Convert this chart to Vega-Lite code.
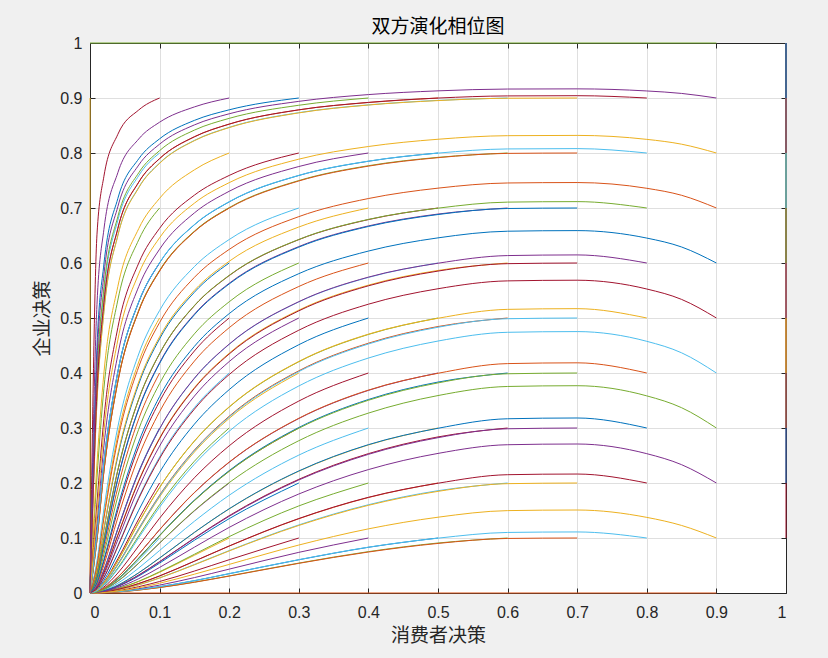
{
"$schema":"https://vega.github.io/schema/vega-lite/v6.json",
"width":696,"height":550,
"autosize":{"type":"none"},
"padding":{"left":90,"top":43,"right":42,"bottom":65},
"background":"#f0f0f0",
"config":{"view":{"stroke":null,"fill":"white"}},
"title":{"text":"双方演化相位图","font":"Noto Sans CJK SC","fontSize":19,"fontWeight":"normal","color":"#000000","offset":-2},
"layer":[
{"data":{"values":[
{"c":9,"x":0,"y":0.9},{"c":9,"x":0,"y":0},
{"c":12,"x":0.1,"y":0.1},{"c":12,"x":0.07,"y":0.0602},{"c":12,"x":0.04,"y":0.0243},{"c":12,"x":0.02,"y":0.007},{"c":12,"x":0.01,"y":0.0019},{"c":12,"x":0,"y":0},
{"c":13,"x":0.1,"y":0.2},{"c":13,"x":0.07,"y":0.1347},{"c":13,"x":0.04,"y":0.0621},{"c":13,"x":0.02,"y":0.0195},{"c":13,"x":0.01,"y":0.0056},{"c":13,"x":0,"y":0},
{"c":14,"x":0.1,"y":0.3},{"c":14,"x":0.07,"y":0.2209},{"c":14,"x":0.04,"y":0.1172},{"c":14,"x":0.02,"y":0.0418},{"c":14,"x":0.01,"y":0.0127},{"c":14,"x":0,"y":0},
{"c":15,"x":0.1,"y":0.4},{"c":15,"x":0.07,"y":0.3167},{"c":15,"x":0.04,"y":0.192},{"c":15,"x":0.02,"y":0.0796},{"c":15,"x":0.01,"y":0.0259},{"c":15,"x":0,"y":0},
{"c":16,"x":0.1,"y":0.5},{"c":16,"x":0.07,"y":0.42},{"c":16,"x":0.04,"y":0.2873},{"c":16,"x":0.02,"y":0.1418},{"c":16,"x":0.01,"y":0.0528},{"c":16,"x":0,"y":0},
{"c":17,"x":0.1,"y":0.6},{"c":17,"x":0.07,"y":0.5288},{"c":17,"x":0.04,"y":0.4017},{"c":17,"x":0.02,"y":0.2374},{"c":17,"x":0.01,"y":0.1064},{"c":17,"x":0,"y":0},
{"c":18,"x":0.1,"y":0.7},{"c":18,"x":0.07,"y":0.6421},{"c":18,"x":0.04,"y":0.5326},{"c":18,"x":0.02,"y":0.372},{"c":18,"x":0.01,"y":0.2093},{"c":18,"x":0,"y":0},
{"c":19,"x":0.1,"y":0.8},{"c":19,"x":0.07,"y":0.7588},{"c":19,"x":0.04,"y":0.6777},{"c":19,"x":0.02,"y":0.5466},{"c":19,"x":0.01,"y":0.3863},{"c":19,"x":0,"y":0},
{"c":20,"x":0.1,"y":0.9},{"c":20,"x":0.07,"y":0.8782},{"c":20,"x":0.04,"y":0.834},{"c":20,"x":0.02,"y":0.7577},{"c":20,"x":0.01,"y":0.6512},{"c":20,"x":0,"y":0},
{"c":23,"x":0.2,"y":0.1},{"c":23,"x":0.15,"y":0.0686},{"c":23,"x":0.1,"y":0.0376},{"c":23,"x":0.07,"y":0.0208},{"c":23,"x":0.04,"y":0.0078},{"c":23,"x":0.02,"y":0.0022},{"c":23,"x":0.01,"y":0.0006},{"c":23,"x":0,"y":0},
{"c":24,"x":0.2,"y":0.2},{"c":24,"x":0.15,"y":0.1493},{"c":24,"x":0.1,"y":0.0906},{"c":24,"x":0.07,"y":0.0541},{"c":24,"x":0.04,"y":0.0215},{"c":24,"x":0.02,"y":0.0063},{"c":24,"x":0.01,"y":0.0017},{"c":24,"x":0,"y":0},
{"c":25,"x":0.2,"y":0.3},{"c":25,"x":0.15,"y":0.2396},{"c":25,"x":0.1,"y":0.1607},{"c":25,"x":0.07,"y":0.1039},{"c":25,"x":0.04,"y":0.0455},{"c":25,"x":0.02,"y":0.0139},{"c":25,"x":0.01,"y":0.0039},{"c":25,"x":0,"y":0},
{"c":26,"x":0.2,"y":0.4},{"c":26,"x":0.15,"y":0.3371},{"c":26,"x":0.1,"y":0.2473},{"c":26,"x":0.07,"y":0.1741},{"c":26,"x":0.04,"y":0.0858},{"c":26,"x":0.02,"y":0.0286},{"c":26,"x":0.01,"y":0.0084},{"c":26,"x":0,"y":0},
{"c":27,"x":0.2,"y":0.5},{"c":27,"x":0.15,"y":0.44},{"c":27,"x":0.1,"y":0.3484},{"c":27,"x":0.07,"y":0.2663},{"c":27,"x":0.04,"y":0.1508},{"c":27,"x":0.02,"y":0.0577},{"c":27,"x":0.01,"y":0.018},{"c":27,"x":0,"y":0},
{"c":28,"x":0.2,"y":0.6},{"c":28,"x":0.15,"y":0.5469},{"c":28,"x":0.1,"y":0.4621},{"c":28,"x":0.07,"y":0.38},{"c":28,"x":0.04,"y":0.2489},{"c":28,"x":0.02,"y":0.1148},{"c":28,"x":0.01,"y":0.0402},{"c":28,"x":0,"y":0},
{"c":29,"x":0.2,"y":0.7},{"c":29,"x":0.15,"y":0.6571},{"c":29,"x":0.1,"y":0.5857},{"c":29,"x":0.07,"y":0.513},{"c":29,"x":0.04,"y":0.3843},{"c":29,"x":0.02,"y":0.2214},{"c":29,"x":0.01,"y":0.0964},{"c":29,"x":0,"y":0},
{"c":30,"x":0.2,"y":0.8},{"c":30,"x":0.15,"y":0.7694},{"c":30,"x":0.1,"y":0.7176},{"c":30,"x":0.07,"y":0.6625},{"c":30,"x":0.04,"y":0.5574},{"c":30,"x":0.02,"y":0.4},{"c":30,"x":0.01,"y":0.2346},{"c":30,"x":0,"y":0},
{"c":31,"x":0.2,"y":0.9},{"c":31,"x":0.15,"y":0.8838},{"c":31,"x":0.1,"y":0.856},{"c":31,"x":0.07,"y":0.8255},{"c":31,"x":0.04,"y":0.7642},{"c":31,"x":0.02,"y":0.6612},{"c":31,"x":0.01,"y":0.5243},{"c":31,"x":0,"y":0},
{"c":34,"x":0.3,"y":0.1},{"c":34,"x":0.2,"y":0.0605},{"c":34,"x":0.15,"y":0.0399},{"c":34,"x":0.1,"y":0.0209},{"c":34,"x":0.07,"y":0.0115},{"c":34,"x":0.04,"y":0.0042},{"c":34,"x":0.02,"y":0.0011},{"c":34,"x":0.01,"y":0.0003},{"c":34,"x":0,"y":0},
{"c":35,"x":0.3,"y":0.2},{"c":35,"x":0.2,"y":0.1352},{"c":35,"x":0.15,"y":0.0959},{"c":35,"x":0.1,"y":0.0544},{"c":35,"x":0.07,"y":0.0308},{"c":35,"x":0.04,"y":0.0119},{"c":35,"x":0.02,"y":0.0033},{"c":35,"x":0.01,"y":0.0009},{"c":35,"x":0,"y":0},
{"c":36,"x":0.3,"y":0.3},{"c":36,"x":0.2,"y":0.2217},{"c":36,"x":0.15,"y":0.1682},{"c":36,"x":0.1,"y":0.1044},{"c":36,"x":0.07,"y":0.0632},{"c":36,"x":0.04,"y":0.0256},{"c":36,"x":0.02,"y":0.0075},{"c":36,"x":0.01,"y":0.0021},{"c":36,"x":0,"y":0},
{"c":37,"x":0.3,"y":0.4},{"c":37,"x":0.2,"y":0.3175},{"c":37,"x":0.15,"y":0.2563},{"c":37,"x":0.1,"y":0.1747},{"c":37,"x":0.07,"y":0.1146},{"c":37,"x":0.04,"y":0.051},{"c":37,"x":0.02,"y":0.0158},{"c":37,"x":0.01,"y":0.0045},{"c":37,"x":0,"y":0},
{"c":38,"x":0.3,"y":0.5},{"c":38,"x":0.2,"y":0.4208},{"c":38,"x":0.15,"y":0.358},{"c":38,"x":0.1,"y":0.2671},{"c":38,"x":0.07,"y":0.1913},{"c":38,"x":0.04,"y":0.0969},{"c":38,"x":0.02,"y":0.0333},{"c":38,"x":0.01,"y":0.0097},{"c":38,"x":0,"y":0},
{"c":39,"x":0.3,"y":0.6},{"c":39,"x":0.2,"y":0.5295},{"c":39,"x":0.15,"y":0.4712},{"c":39,"x":0.1,"y":0.3808},{"c":39,"x":0.07,"y":0.2977},{"c":39,"x":0.04,"y":0.1761},{"c":39,"x":0.02,"y":0.0707},{"c":39,"x":0.01,"y":0.0226},{"c":39,"x":0,"y":0},
{"c":40,"x":0.3,"y":0.7},{"c":40,"x":0.2,"y":0.6427},{"c":40,"x":0.15,"y":0.5935},{"c":40,"x":0.1,"y":0.5137},{"c":40,"x":0.07,"y":0.4346},{"c":40,"x":0.04,"y":0.3019},{"c":40,"x":0.02,"y":0.1528},{"c":40,"x":0.01,"y":0.0581},{"c":40,"x":0,"y":0},
{"c":41,"x":0.3,"y":0.8},{"c":41,"x":0.2,"y":0.7592},{"c":41,"x":0.15,"y":0.7234},{"c":41,"x":0.1,"y":0.6631},{"c":41,"x":0.07,"y":0.5998},{"c":41,"x":0.04,"y":0.4825},{"c":41,"x":0.02,"y":0.3175},{"c":41,"x":0.01,"y":0.1638},{"c":41,"x":0,"y":0},
{"c":42,"x":0.3,"y":0.9},{"c":42,"x":0.2,"y":0.8785},{"c":42,"x":0.15,"y":0.8593},{"c":42,"x":0.1,"y":0.8258},{"c":42,"x":0.07,"y":0.7894},{"c":42,"x":0.04,"y":0.7173},{"c":42,"x":0.02,"y":0.5982},{"c":42,"x":0.01,"y":0.4467},{"c":42,"x":0,"y":0},
{"c":45,"x":0.4,"y":0.1},{"c":45,"x":0.3,"y":0.0739},{"c":45,"x":0.2,"y":0.0434},{"c":45,"x":0.15,"y":0.028},{"c":45,"x":0.1,"y":0.0144},{"c":45,"x":0.07,"y":0.0078},{"c":45,"x":0.04,"y":0.0028},{"c":45,"x":0.02,"y":0.0008},{"c":45,"x":0.01,"y":0.0002},{"c":45,"x":0,"y":0},
{"c":46,"x":0.4,"y":0.2},{"c":46,"x":0.3,"y":0.1583},{"c":46,"x":0.2,"y":0.1025},{"c":46,"x":0.15,"y":0.0704},{"c":46,"x":0.1,"y":0.0386},{"c":46,"x":0.07,"y":0.0214},{"c":46,"x":0.04,"y":0.0081},{"c":46,"x":0.02,"y":0.0022},{"c":46,"x":0.01,"y":0.0006},{"c":46,"x":0,"y":0},
{"c":47,"x":0.4,"y":0.3},{"c":47,"x":0.3,"y":0.2507},{"c":47,"x":0.2,"y":0.1777},{"c":47,"x":0.15,"y":0.1304},{"c":47,"x":0.1,"y":0.0773},{"c":47,"x":0.07,"y":0.0454},{"c":47,"x":0.04,"y":0.0178},{"c":47,"x":0.02,"y":0.0051},{"c":47,"x":0.01,"y":0.0014},{"c":47,"x":0,"y":0},
{"c":48,"x":0.4,"y":0.4},{"c":48,"x":0.3,"y":0.349},{"c":48,"x":0.2,"y":0.2676},{"c":48,"x":0.15,"y":0.2095},{"c":48,"x":0.1,"y":0.136},{"c":48,"x":0.07,"y":0.0856},{"c":48,"x":0.04,"y":0.0363},{"c":48,"x":0.02,"y":0.0109},{"c":48,"x":0.01,"y":0.003},{"c":48,"x":0,"y":0},
{"c":49,"x":0.4,"y":0.5},{"c":49,"x":0.3,"y":0.4514},{"c":49,"x":0.2,"y":0.3698},{"c":49,"x":0.15,"y":0.307},{"c":49,"x":0.1,"y":0.2194},{"c":49,"x":0.07,"y":0.1505},{"c":49,"x":0.04,"y":0.0713},{"c":49,"x":0.02,"y":0.0231},{"c":49,"x":0.01,"y":0.0067},{"c":49,"x":0,"y":0},
{"c":50,"x":0.4,"y":0.6},{"c":50,"x":0.3,"y":0.5573},{"c":50,"x":0.2,"y":0.4824},{"c":50,"x":0.15,"y":0.4216},{"c":50,"x":0.1,"y":0.3296},{"c":50,"x":0.07,"y":0.2485},{"c":50,"x":0.04,"y":0.1372},{"c":50,"x":0.02,"y":0.051},{"c":50,"x":0.01,"y":0.0156},{"c":50,"x":0,"y":0},
{"c":51,"x":0.4,"y":0.7},{"c":51,"x":0.3,"y":0.6654},{"c":51,"x":0.2,"y":0.6031},{"c":51,"x":0.15,"y":0.5503},{"c":51,"x":0.1,"y":0.4658},{"c":51,"x":0.07,"y":0.3839},{"c":51,"x":0.04,"y":0.2526},{"c":51,"x":0.02,"y":0.1172},{"c":51,"x":0.01,"y":0.0414},{"c":51,"x":0,"y":0},
{"c":52,"x":0.4,"y":0.8},{"c":52,"x":0.3,"y":0.7754},{"c":52,"x":0.2,"y":0.7304},{"c":52,"x":0.15,"y":0.6911},{"c":52,"x":0.1,"y":0.6251},{"c":52,"x":0.07,"y":0.5571},{"c":52,"x":0.04,"y":0.4333},{"c":52,"x":0.02,"y":0.2676},{"c":52,"x":0.01,"y":0.1266},{"c":52,"x":0,"y":0},
{"c":53,"x":0.4,"y":0.9},{"c":53,"x":0.3,"y":0.8868},{"c":53,"x":0.2,"y":0.863},{"c":53,"x":0.15,"y":0.8416},{"c":53,"x":0.1,"y":0.8043},{"c":53,"x":0.07,"y":0.764},{"c":53,"x":0.04,"y":0.6844},{"c":53,"x":0.02,"y":0.5553},{"c":53,"x":0.01,"y":0.3963},{"c":53,"x":0,"y":0},
{"c":56,"x":0.5,"y":0.1},{"c":56,"x":0.4,"y":0.0831},{"c":56,"x":0.3,"y":0.0604},{"c":56,"x":0.2,"y":0.0351},{"c":56,"x":0.15,"y":0.0224},{"c":56,"x":0.1,"y":0.0115},{"c":56,"x":0.07,"y":0.0062},{"c":56,"x":0.04,"y":0.0022},{"c":56,"x":0.02,"y":0.0006},{"c":56,"x":0.01,"y":0.0002},{"c":56,"x":0,"y":0},
{"c":57,"x":0.5,"y":0.2},{"c":57,"x":0.4,"y":0.1736},{"c":57,"x":0.3,"y":0.135},{"c":57,"x":0.2,"y":0.0853},{"c":57,"x":0.15,"y":0.0577},{"c":57,"x":0.1,"y":0.0309},{"c":57,"x":0.07,"y":0.0171},{"c":57,"x":0.04,"y":0.0064},{"c":57,"x":0.02,"y":0.0018},{"c":57,"x":0.01,"y":0.0005},{"c":57,"x":0,"y":0},
{"c":58,"x":0.5,"y":0.3},{"c":58,"x":0.4,"y":0.2692},{"c":58,"x":0.3,"y":0.2214},{"c":58,"x":0.2,"y":0.1528},{"c":58,"x":0.15,"y":0.11},{"c":58,"x":0.1,"y":0.0634},{"c":58,"x":0.07,"y":0.0367},{"c":58,"x":0.04,"y":0.0141},{"c":58,"x":0.02,"y":0.004},{"c":58,"x":0.01,"y":0.0011},{"c":58,"x":0,"y":0},
{"c":59,"x":0.5,"y":0.4},{"c":59,"x":0.4,"y":0.3684},{"c":59,"x":0.3,"y":0.3172},{"c":59,"x":0.2,"y":0.2376},{"c":59,"x":0.15,"y":0.1824},{"c":59,"x":0.1,"y":0.115},{"c":59,"x":0.07,"y":0.0705},{"c":59,"x":0.04,"y":0.0289},{"c":59,"x":0.02,"y":0.0085},{"c":59,"x":0.01,"y":0.0024},{"c":59,"x":0,"y":0},
{"c":60,"x":0.5,"y":0.5},{"c":60,"x":0.4,"y":0.4701},{"c":60,"x":0.3,"y":0.4205},{"c":60,"x":0.2,"y":0.338},{"c":60,"x":0.15,"y":0.276},{"c":60,"x":0.1,"y":0.1918},{"c":60,"x":0.07,"y":0.128},{"c":60,"x":0.04,"y":0.0584},{"c":60,"x":0.02,"y":0.0184},{"c":60,"x":0.01,"y":0.0052},{"c":60,"x":0,"y":0},
{"c":61,"x":0.5,"y":0.6},{"c":61,"x":0.4,"y":0.5738},{"c":61,"x":0.3,"y":0.5293},{"c":61,"x":0.2,"y":0.4521},{"c":61,"x":0.15,"y":0.39},{"c":61,"x":0.1,"y":0.2982},{"c":61,"x":0.07,"y":0.2193},{"c":61,"x":0.04,"y":0.116},{"c":61,"x":0.02,"y":0.0413},{"c":61,"x":0.01,"y":0.0125},{"c":61,"x":0,"y":0},
{"c":62,"x":0.5,"y":0.7},{"c":62,"x":0.4,"y":0.6789},{"c":62,"x":0.3,"y":0.6425},{"c":62,"x":0.2,"y":0.5771},{"c":62,"x":0.15,"y":0.5222},{"c":62,"x":0.1,"y":0.4351},{"c":62,"x":0.07,"y":0.3522},{"c":62,"x":0.04,"y":0.2232},{"c":62,"x":0.02,"y":0.0982},{"c":62,"x":0.01,"y":0.0335},{"c":62,"x":0,"y":0},
{"c":63,"x":0.5,"y":0.8},{"c":63,"x":0.4,"y":0.785},{"c":63,"x":0.3,"y":0.7591},{"c":63,"x":0.2,"y":0.7111},{"c":63,"x":0.15,"y":0.6695},{"c":63,"x":0.1,"y":0.6002},{"c":63,"x":0.07,"y":0.529},{"c":63,"x":0.04,"y":0.4019},{"c":63,"x":0.02,"y":0.2376},{"c":63,"x":0.01,"y":0.1066},{"c":63,"x":0,"y":0},
{"c":64,"x":0.5,"y":0.9},{"c":64,"x":0.4,"y":0.8918},{"c":64,"x":0.3,"y":0.8784},{"c":64,"x":0.2,"y":0.8524},{"c":64,"x":0.15,"y":0.8294},{"c":64,"x":0.1,"y":0.7897},{"c":64,"x":0.07,"y":0.7468},{"c":64,"x":0.04,"y":0.6625},{"c":64,"x":0.02,"y":0.5273},{"c":64,"x":0.01,"y":0.3646},{"c":64,"x":0,"y":0},
{"c":67,"x":0.6,"y":0.1},{"c":67,"x":0.5,"y":0.0909},{"c":67,"x":0.4,"y":0.0752},{"c":67,"x":0.3,"y":0.0544},{"c":67,"x":0.2,"y":0.0311},{"c":67,"x":0.15,"y":0.0198},{"c":67,"x":0.1,"y":0.01},{"c":67,"x":0.07,"y":0.0054},{"c":67,"x":0.04,"y":0.0019},{"c":67,"x":0.02,"y":0.0005},{"c":67,"x":0.01,"y":0.0001},{"c":67,"x":0,"y":0},
{"c":68,"x":0.6,"y":0.2},{"c":68,"x":0.5,"y":0.186},{"c":68,"x":0.4,"y":0.1605},{"c":68,"x":0.3,"y":0.1238},{"c":68,"x":0.2,"y":0.0771},{"c":68,"x":0.15,"y":0.0518},{"c":68,"x":0.1,"y":0.0275},{"c":68,"x":0.07,"y":0.015},{"c":68,"x":0.04,"y":0.0056},{"c":68,"x":0.02,"y":0.0015},{"c":68,"x":0.01,"y":0.0004},{"c":68,"x":0,"y":0},
{"c":69,"x":0.6,"y":0.3},{"c":69,"x":0.5,"y":0.2838},{"c":69,"x":0.4,"y":0.2534},{"c":69,"x":0.3,"y":0.2067},{"c":69,"x":0.2,"y":0.1406},{"c":69,"x":0.15,"y":0.1},{"c":69,"x":0.1,"y":0.0571},{"c":69,"x":0.07,"y":0.0327},{"c":69,"x":0.04,"y":0.0126},{"c":69,"x":0.02,"y":0.0035},{"c":69,"x":0.01,"y":0.001},{"c":69,"x":0,"y":0},
{"c":70,"x":0.6,"y":0.4},{"c":70,"x":0.5,"y":0.3835},{"c":70,"x":0.4,"y":0.3518},{"c":70,"x":0.3,"y":0.3009},{"c":70,"x":0.2,"y":0.2225},{"c":70,"x":0.15,"y":0.1689},{"c":70,"x":0.1,"y":0.1049},{"c":70,"x":0.07,"y":0.0636},{"c":70,"x":0.04,"y":0.0257},{"c":70,"x":0.02,"y":0.0076},{"c":70,"x":0.01,"y":0.0021},{"c":70,"x":0,"y":0},
{"c":71,"x":0.6,"y":0.5},{"c":71,"x":0.5,"y":0.4845},{"c":71,"x":0.4,"y":0.4542},{"c":71,"x":0.3,"y":0.404},{"c":71,"x":0.2,"y":0.3214},{"c":71,"x":0.15,"y":0.26},{"c":71,"x":0.1,"y":0.178},{"c":71,"x":0.07,"y":0.1172},{"c":71,"x":0.04,"y":0.0525},{"c":71,"x":0.02,"y":0.0163},{"c":71,"x":0.01,"y":0.0046},{"c":71,"x":0,"y":0},
{"c":72,"x":0.6,"y":0.6},{"c":72,"x":0.5,"y":0.5865},{"c":72,"x":0.4,"y":0.5598},{"c":72,"x":0.3,"y":0.5143},{"c":72,"x":0.2,"y":0.436},{"c":72,"x":0.15,"y":0.3735},{"c":72,"x":0.1,"y":0.282},{"c":72,"x":0.07,"y":0.2047},{"c":72,"x":0.04,"y":0.1059},{"c":72,"x":0.02,"y":0.037},{"c":72,"x":0.01,"y":0.011},{"c":72,"x":0,"y":0},
{"c":73,"x":0.6,"y":0.7},{"c":73,"x":0.5,"y":0.689},{"c":73,"x":0.4,"y":0.6674},{"c":73,"x":0.3,"y":0.6299},{"c":73,"x":0.2,"y":0.5631},{"c":73,"x":0.15,"y":0.507},{"c":73,"x":0.1,"y":0.4188},{"c":73,"x":0.07,"y":0.3356},{"c":73,"x":0.04,"y":0.2085},{"c":73,"x":0.02,"y":0.0891},{"c":73,"x":0.01,"y":0.0296},{"c":73,"x":0,"y":0},
{"c":74,"x":0.6,"y":0.8},{"c":74,"x":0.5,"y":0.7921},{"c":74,"x":0.4,"y":0.7769},{"c":74,"x":0.3,"y":0.7499},{"c":74,"x":0.2,"y":0.7007},{"c":74,"x":0.15,"y":0.6579},{"c":74,"x":0.1,"y":0.5867},{"c":74,"x":0.07,"y":0.514},{"c":74,"x":0.04,"y":0.3854},{"c":74,"x":0.02,"y":0.2225},{"c":74,"x":0.01,"y":0.097},{"c":74,"x":0,"y":0},
{"c":75,"x":0.6,"y":0.9},{"c":75,"x":0.5,"y":0.8957},{"c":75,"x":0.4,"y":0.8875},{"c":75,"x":0.3,"y":0.8734},{"c":75,"x":0.2,"y":0.8467},{"c":75,"x":0.15,"y":0.8229},{"c":75,"x":0.1,"y":0.7818},{"c":75,"x":0.07,"y":0.7375},{"c":75,"x":0.04,"y":0.6505},{"c":75,"x":0.02,"y":0.5123},{"c":75,"x":0.01,"y":0.3481},{"c":75,"x":0,"y":0},
{"c":78,"x":0.7,"y":0.1},{"c":78,"x":0.6,"y":0.0992},{"c":78,"x":0.5,"y":0.0901},{"c":78,"x":0.4,"y":0.0745},{"c":78,"x":0.3,"y":0.0539},{"c":78,"x":0.2,"y":0.0307},{"c":78,"x":0.15,"y":0.0195},{"c":78,"x":0.1,"y":0.0099},{"c":78,"x":0.07,"y":0.0053},{"c":78,"x":0.04,"y":0.0019},{"c":78,"x":0.02,"y":0.0005},{"c":78,"x":0.01,"y":0.0001},{"c":78,"x":0,"y":0},
{"c":79,"x":0.7,"y":0.2},{"c":79,"x":0.6,"y":0.1988},{"c":79,"x":0.5,"y":0.1848},{"c":79,"x":0.4,"y":0.1594},{"c":79,"x":0.3,"y":0.1228},{"c":79,"x":0.2,"y":0.0765},{"c":79,"x":0.15,"y":0.0512},{"c":79,"x":0.1,"y":0.0273},{"c":79,"x":0.07,"y":0.0149},{"c":79,"x":0.04,"y":0.0055},{"c":79,"x":0.02,"y":0.0015},{"c":79,"x":0.01,"y":0.0004},{"c":79,"x":0,"y":0},
{"c":80,"x":0.7,"y":0.3},{"c":80,"x":0.6,"y":0.2986},{"c":80,"x":0.5,"y":0.2824},{"c":80,"x":0.4,"y":0.2521},{"c":80,"x":0.3,"y":0.2055},{"c":80,"x":0.2,"y":0.1395},{"c":80,"x":0.15,"y":0.0993},{"c":80,"x":0.1,"y":0.0566},{"c":80,"x":0.07,"y":0.0323},{"c":80,"x":0.04,"y":0.0125},{"c":80,"x":0.02,"y":0.0035},{"c":80,"x":0.01,"y":0.0009},{"c":80,"x":0,"y":0},
{"c":81,"x":0.7,"y":0.4},{"c":81,"x":0.6,"y":0.3986},{"c":81,"x":0.5,"y":0.382},{"c":81,"x":0.4,"y":0.3504},{"c":81,"x":0.3,"y":0.2995},{"c":81,"x":0.2,"y":0.2211},{"c":81,"x":0.15,"y":0.1678},{"c":81,"x":0.1,"y":0.1041},{"c":81,"x":0.07,"y":0.063},{"c":81,"x":0.04,"y":0.0254},{"c":81,"x":0.02,"y":0.0075},{"c":81,"x":0.01,"y":0.0021},{"c":81,"x":0,"y":0},
{"c":82,"x":0.7,"y":0.5},{"c":82,"x":0.6,"y":0.4987},{"c":82,"x":0.5,"y":0.4832},{"c":82,"x":0.4,"y":0.4528},{"c":82,"x":0.3,"y":0.4026},{"c":82,"x":0.2,"y":0.32},{"c":82,"x":0.15,"y":0.2588},{"c":82,"x":0.1,"y":0.1769},{"c":82,"x":0.07,"y":0.1163},{"c":82,"x":0.04,"y":0.0519},{"c":82,"x":0.02,"y":0.0161},{"c":82,"x":0.01,"y":0.0046},{"c":82,"x":0,"y":0},
{"c":83,"x":0.7,"y":0.6},{"c":83,"x":0.6,"y":0.5988},{"c":83,"x":0.5,"y":0.5853},{"c":83,"x":0.4,"y":0.5585},{"c":83,"x":0.3,"y":0.513},{"c":83,"x":0.2,"y":0.4346},{"c":83,"x":0.15,"y":0.3721},{"c":83,"x":0.1,"y":0.2806},{"c":83,"x":0.07,"y":0.2034},{"c":83,"x":0.04,"y":0.105},{"c":83,"x":0.02,"y":0.0367},{"c":83,"x":0.01,"y":0.0109},{"c":83,"x":0,"y":0},
{"c":84,"x":0.7,"y":0.7},{"c":84,"x":0.6,"y":0.6991},{"c":84,"x":0.5,"y":0.6881},{"c":84,"x":0.4,"y":0.6664},{"c":84,"x":0.3,"y":0.6288},{"c":84,"x":0.2,"y":0.5619},{"c":84,"x":0.15,"y":0.5057},{"c":84,"x":0.1,"y":0.4174},{"c":84,"x":0.07,"y":0.3341},{"c":84,"x":0.04,"y":0.2072},{"c":84,"x":0.02,"y":0.0884},{"c":84,"x":0.01,"y":0.0293},{"c":84,"x":0,"y":0},
{"c":85,"x":0.7,"y":0.8},{"c":85,"x":0.6,"y":0.7993},{"c":85,"x":0.5,"y":0.7915},{"c":85,"x":0.4,"y":0.7761},{"c":85,"x":0.3,"y":0.7491},{"c":85,"x":0.2,"y":0.6998},{"c":85,"x":0.15,"y":0.6569},{"c":85,"x":0.1,"y":0.5855},{"c":85,"x":0.07,"y":0.5127},{"c":85,"x":0.04,"y":0.384},{"c":85,"x":0.02,"y":0.2211},{"c":85,"x":0.01,"y":0.0962},{"c":85,"x":0,"y":0},
{"c":86,"x":0.7,"y":0.9},{"c":86,"x":0.6,"y":0.8996},{"c":86,"x":0.5,"y":0.8953},{"c":86,"x":0.4,"y":0.8872},{"c":86,"x":0.3,"y":0.8729},{"c":86,"x":0.2,"y":0.8462},{"c":86,"x":0.15,"y":0.8224},{"c":86,"x":0.1,"y":0.7812},{"c":86,"x":0.07,"y":0.7367},{"c":86,"x":0.04,"y":0.6495},{"c":86,"x":0.02,"y":0.511},{"c":86,"x":0.01,"y":0.3466},{"c":86,"x":0,"y":0},
{"c":89,"x":0.8,"y":0.1},{"c":89,"x":0.7,"y":0.111},{"c":89,"x":0.6,"y":0.1101},{"c":89,"x":0.5,"y":0.0997},{"c":89,"x":0.4,"y":0.0833},{"c":89,"x":0.3,"y":0.0606},{"c":89,"x":0.2,"y":0.0352},{"c":89,"x":0.15,"y":0.0225},{"c":89,"x":0.1,"y":0.0116},{"c":89,"x":0.07,"y":0.0062},{"c":89,"x":0.04,"y":0.0022},{"c":89,"x":0.02,"y":0.0006},{"c":89,"x":0.01,"y":0.0002},{"c":89,"x":0,"y":0},
{"c":90,"x":0.8,"y":0.2},{"c":90,"x":0.7,"y":0.2163},{"c":90,"x":0.6,"y":0.2151},{"c":90,"x":0.5,"y":0.1996},{"c":90,"x":0.4,"y":0.174},{"c":90,"x":0.3,"y":0.1354},{"c":90,"x":0.2,"y":0.0855},{"c":90,"x":0.15,"y":0.0579},{"c":90,"x":0.1,"y":0.0311},{"c":90,"x":0.07,"y":0.0172},{"c":90,"x":0.04,"y":0.0064},{"c":90,"x":0.02,"y":0.0018},{"c":90,"x":0.01,"y":0.0005},{"c":90,"x":0,"y":0},
{"c":91,"x":0.8,"y":0.3},{"c":91,"x":0.7,"y":0.3182},{"c":91,"x":0.6,"y":0.3168},{"c":91,"x":0.5,"y":0.2995},{"c":91,"x":0.4,"y":0.2697},{"c":91,"x":0.3,"y":0.2219},{"c":91,"x":0.2,"y":0.1532},{"c":91,"x":0.15,"y":0.1102},{"c":91,"x":0.1,"y":0.0637},{"c":91,"x":0.07,"y":0.0368},{"c":91,"x":0.04,"y":0.0142},{"c":91,"x":0.02,"y":0.004},{"c":91,"x":0.01,"y":0.0011},{"c":91,"x":0,"y":0},
{"c":92,"x":0.8,"y":0.4},{"c":92,"x":0.7,"y":0.4185},{"c":92,"x":0.6,"y":0.4171},{"c":92,"x":0.5,"y":0.3995},{"c":92,"x":0.4,"y":0.3689},{"c":92,"x":0.3,"y":0.3177},{"c":92,"x":0.2,"y":0.2381},{"c":92,"x":0.15,"y":0.1828},{"c":92,"x":0.1,"y":0.1153},{"c":92,"x":0.07,"y":0.0707},{"c":92,"x":0.04,"y":0.029},{"c":92,"x":0.02,"y":0.0085},{"c":92,"x":0.01,"y":0.0024},{"c":92,"x":0,"y":0},
{"c":93,"x":0.8,"y":0.5},{"c":93,"x":0.7,"y":0.517},{"c":93,"x":0.6,"y":0.5157},{"c":93,"x":0.5,"y":0.4995},{"c":93,"x":0.4,"y":0.4706},{"c":93,"x":0.3,"y":0.421},{"c":93,"x":0.2,"y":0.3386},{"c":93,"x":0.15,"y":0.2765},{"c":93,"x":0.1,"y":0.1919},{"c":93,"x":0.07,"y":0.1284},{"c":93,"x":0.04,"y":0.0586},{"c":93,"x":0.02,"y":0.0185},{"c":93,"x":0.01,"y":0.0052},{"c":93,"x":0,"y":0},
{"c":94,"x":0.8,"y":0.6},{"c":94,"x":0.7,"y":0.6147},{"c":94,"x":0.6,"y":0.6135},{"c":94,"x":0.5,"y":0.5996},{"c":94,"x":0.4,"y":0.5743},{"c":94,"x":0.3,"y":0.5297},{"c":94,"x":0.2,"y":0.4526},{"c":94,"x":0.15,"y":0.3906},{"c":94,"x":0.1,"y":0.2987},{"c":94,"x":0.07,"y":0.2198},{"c":94,"x":0.04,"y":0.1163},{"c":94,"x":0.02,"y":0.0414},{"c":94,"x":0.01,"y":0.0126},{"c":94,"x":0,"y":0},
{"c":95,"x":0.8,"y":0.7},{"c":95,"x":0.7,"y":0.7116},{"c":95,"x":0.6,"y":0.7107},{"c":95,"x":0.5,"y":0.6997},{"c":95,"x":0.4,"y":0.6793},{"c":95,"x":0.3,"y":0.6428},{"c":95,"x":0.2,"y":0.5776},{"c":95,"x":0.15,"y":0.5227},{"c":95,"x":0.1,"y":0.4356},{"c":95,"x":0.07,"y":0.3527},{"c":95,"x":0.04,"y":0.2236},{"c":95,"x":0.02,"y":0.0985},{"c":95,"x":0.01,"y":0.0336},{"c":95,"x":0,"y":0},
{"c":96,"x":0.8,"y":0.8},{"c":96,"x":0.7,"y":0.808},{"c":96,"x":0.6,"y":0.8074},{"c":96,"x":0.5,"y":0.7998},{"c":96,"x":0.4,"y":0.7852},{"c":96,"x":0.3,"y":0.7593},{"c":96,"x":0.2,"y":0.7115},{"c":96,"x":0.15,"y":0.6699},{"c":96,"x":0.1,"y":0.6006},{"c":96,"x":0.07,"y":0.5295},{"c":96,"x":0.04,"y":0.4025},{"c":96,"x":0.02,"y":0.2381},{"c":96,"x":0.01,"y":0.1069},{"c":96,"x":0,"y":0},
{"c":97,"x":0.8,"y":0.9},{"c":97,"x":0.7,"y":0.9042},{"c":97,"x":0.6,"y":0.9038},{"c":97,"x":0.5,"y":0.8999},{"c":97,"x":0.4,"y":0.892},{"c":97,"x":0.3,"y":0.8785},{"c":97,"x":0.2,"y":0.8526},{"c":97,"x":0.15,"y":0.8296},{"c":97,"x":0.1,"y":0.7899},{"c":97,"x":0.07,"y":0.7471},{"c":97,"x":0.04,"y":0.6629},{"c":97,"x":0.02,"y":0.5277},{"c":97,"x":0.01,"y":0.3652},{"c":97,"x":0,"y":0},
{"c":99,"x":0.9,"y":0},{"c":99,"x":0,"y":0},
{"c":100,"x":0.9,"y":0.1},{"c":100,"x":0.85,"y":0.1228},{"c":100,"x":0.8,"y":0.1375},{"c":100,"x":0.7,"y":0.1509},{"c":100,"x":0.6,"y":0.1498},{"c":100,"x":0.5,"y":0.1378},{"c":100,"x":0.4,"y":0.1166},{"c":100,"x":0.3,"y":0.0872},{"c":100,"x":0.2,"y":0.052},{"c":100,"x":0.15,"y":0.0342},{"c":100,"x":0.1,"y":0.0178},{"c":100,"x":0.07,"y":0.0095},{"c":100,"x":0.04,"y":0.0035},{"c":100,"x":0.02,"y":0.001},{"c":100,"x":0.01,"y":0.0003},{"c":100,"x":0,"y":0},
{"c":101,"x":0.9,"y":0.2},{"c":101,"x":0.85,"y":0.2333},{"c":101,"x":0.8,"y":0.2533},{"c":101,"x":0.7,"y":0.2709},{"c":101,"x":0.6,"y":0.2696},{"c":101,"x":0.5,"y":0.2538},{"c":101,"x":0.4,"y":0.2244},{"c":101,"x":0.3,"y":0.18},{"c":101,"x":0.2,"y":0.1193},{"c":101,"x":0.15,"y":0.0833},{"c":101,"x":0.1,"y":0.0465},{"c":101,"x":0.07,"y":0.026},{"c":101,"x":0.04,"y":0.0099},{"c":101,"x":0.02,"y":0.0028},{"c":101,"x":0.01,"y":0.0008},{"c":101,"x":0,"y":0},
{"c":102,"x":0.9,"y":0.3},{"c":102,"x":0.85,"y":0.3369},{"c":102,"x":0.8,"y":0.3584},{"c":102,"x":0.7,"y":0.3769},{"c":102,"x":0.6,"y":0.3755},{"c":102,"x":0.5,"y":0.359},{"c":102,"x":0.4,"y":0.3271},{"c":102,"x":0.3,"y":0.2769},{"c":102,"x":0.2,"y":0.2007},{"c":102,"x":0.15,"y":0.15},{"c":102,"x":0.1,"y":0.091},{"c":102,"x":0.07,"y":0.0544},{"c":102,"x":0.04,"y":0.0216},{"c":102,"x":0.02,"y":0.0063},{"c":102,"x":0.01,"y":0.0017},{"c":102,"x":0,"y":0},
{"c":103,"x":0.9,"y":0.4},{"c":103,"x":0.85,"y":0.4367},{"c":103,"x":0.8,"y":0.4576},{"c":103,"x":0.7,"y":0.4753},{"c":103,"x":0.6,"y":0.474},{"c":103,"x":0.5,"y":0.4581},{"c":103,"x":0.4,"y":0.4272},{"c":103,"x":0.3,"y":0.3764},{"c":103,"x":0.2,"y":0.2942},{"c":103,"x":0.15,"y":0.2342},{"c":103,"x":0.1,"y":0.1561},{"c":103,"x":0.07,"y":0.1004},{"c":103,"x":0.04,"y":0.0437},{"c":103,"x":0.02,"y":0.0134},{"c":103,"x":0.01,"y":0.0037},{"c":103,"x":0,"y":0},
{"c":104,"x":0.9,"y":0.5},{"c":104,"x":0.85,"y":0.5338},{"c":104,"x":0.8,"y":0.5527},{"c":104,"x":0.7,"y":0.5687},{"c":104,"x":0.6,"y":0.5675},{"c":104,"x":0.5,"y":0.5532},{"c":104,"x":0.4,"y":0.5251},{"c":104,"x":0.3,"y":0.4778},{"c":104,"x":0.2,"y":0.3972},{"c":104,"x":0.15,"y":0.3343},{"c":104,"x":0.1,"y":0.2446},{"c":104,"x":0.07,"y":0.1718},{"c":104,"x":0.04,"y":0.0843},{"c":104,"x":0.02,"y":0.028},{"c":104,"x":0.01,"y":0.0082},{"c":104,"x":0,"y":0},
{"c":105,"x":0.9,"y":0.6},{"c":105,"x":0.85,"y":0.6291},{"c":105,"x":0.8,"y":0.6453},{"c":105,"x":0.7,"y":0.6589},{"c":105,"x":0.6,"y":0.6578},{"c":105,"x":0.5,"y":0.6457},{"c":105,"x":0.4,"y":0.6217},{"c":105,"x":0.3,"y":0.5806},{"c":105,"x":0.2,"y":0.508},{"c":105,"x":0.15,"y":0.4484},{"c":105,"x":0.1,"y":0.3572},{"c":105,"x":0.07,"y":0.2747},{"c":105,"x":0.04,"y":0.1574},{"c":105,"x":0.02,"y":0.0609},{"c":105,"x":0.01,"y":0.0191},{"c":105,"x":0,"y":0},
{"c":106,"x":0.9,"y":0.7},{"c":106,"x":0.85,"y":0.7231},{"c":106,"x":0.8,"y":0.7358},{"c":106,"x":0.7,"y":0.7463},{"c":106,"x":0.6,"y":0.7455},{"c":106,"x":0.5,"y":0.7361},{"c":106,"x":0.4,"y":0.7172},{"c":106,"x":0.3,"y":0.6843},{"c":106,"x":0.2,"y":0.6247},{"c":106,"x":0.15,"y":0.5739},{"c":106,"x":0.1,"y":0.4918},{"c":106,"x":0.07,"y":0.4112},{"c":106,"x":0.04,"y":0.2788},{"c":106,"x":0.02,"y":0.1356},{"c":106,"x":0.01,"y":0.0497},{"c":106,"x":0,"y":0},
{"c":107,"x":0.9,"y":0.8},{"c":107,"x":0.85,"y":0.816},{"c":107,"x":0.8,"y":0.8248},{"c":107,"x":0.7,"y":0.832},{"c":107,"x":0.6,"y":0.8315},{"c":107,"x":0.5,"y":0.825},{"c":107,"x":0.4,"y":0.8118},{"c":107,"x":0.3,"y":0.7888},{"c":107,"x":0.2,"y":0.7461},{"c":107,"x":0.15,"y":0.7088},{"c":107,"x":0.1,"y":0.6459},{"c":107,"x":0.07,"y":0.5804},{"c":107,"x":0.04,"y":0.46},{"c":107,"x":0.02,"y":0.2942},{"c":107,"x":0.01,"y":0.1459},{"c":107,"x":0,"y":0},
{"c":108,"x":0.9,"y":0.9},{"c":108,"x":0.85,"y":0.9083},{"c":108,"x":0.8,"y":0.9128},{"c":108,"x":0.7,"y":0.9166},{"c":108,"x":0.6,"y":0.9163},{"c":108,"x":0.5,"y":0.913},{"c":108,"x":0.4,"y":0.9062},{"c":108,"x":0.3,"y":0.8939},{"c":108,"x":0.2,"y":0.8713},{"c":108,"x":0.15,"y":0.8511},{"c":108,"x":0.1,"y":0.8161},{"c":108,"x":0.07,"y":0.7781},{"c":108,"x":0.04,"y":0.7024},{"c":108,"x":0.02,"y":0.5788},{"c":108,"x":0.01,"y":0.4236},{"c":108,"x":0,"y":0},
{"c":109,"x":0.9,"y":1},{"c":109,"x":0,"y":1},
{"c":111,"x":1,"y":0.1},{"c":111,"x":1,"y":1},
{"c":112,"x":1,"y":0.2},{"c":112,"x":1,"y":1},
{"c":113,"x":1,"y":0.3},{"c":113,"x":1,"y":1},
{"c":114,"x":1,"y":0.4},{"c":114,"x":1,"y":1},
{"c":115,"x":1,"y":0.5},{"c":115,"x":1,"y":1},
{"c":116,"x":1,"y":0.6},{"c":116,"x":1,"y":1},
{"c":117,"x":1,"y":0.7},{"c":117,"x":1,"y":1},
{"c":118,"x":1,"y":0.8},{"c":118,"x":1,"y":1},
{"c":119,"x":1,"y":0.9},{"c":119,"x":1,"y":1}
]},
"transform":[{"calculate":"datum.c % 7","as":"k"}],
"mark":{"type":"line","strokeWidth":1,"interpolate":"monotone","clip":false},
"encoding":{
"x":{"field":"x","type":"quantitative","scale":{"domain":[0,1],"nice":false,"zero":false},
"axis":{"title":"消费者决策","values":[0,0.1,0.2,0.3,0.4,0.5,0.6,0.7,0.8,0.9,1],"format":".1~f","grid":true,"gridColor":"#dfdfdf","gridWidth":1,"tickSize":-5,"tickColor":"#262626","domainColor":"#262626","labelFont":"Liberation Sans","labelFontSize":16,"labelColor":"#262626","labelPadding":16,"titleFont":"Noto Sans CJK SC","titleFontSize":19,"titleFontWeight":"normal","titleColor":"#262626","titlePadding":6}},
"y":{"field":"y","type":"quantitative","scale":{"domain":[0,1],"nice":false,"zero":false},
"axis":{"title":"企业决策","values":[0,0.1,0.2,0.3,0.4,0.5,0.6,0.7,0.8,0.9,1],"format":".1~f","grid":true,"gridColor":"#dfdfdf","gridWidth":1,"tickSize":-5,"tickColor":"#262626","domainColor":"#262626","labelFont":"Liberation Sans","labelFontSize":16,"labelColor":"#262626","labelPadding":13,"titleFont":"Noto Sans CJK SC","titleFontSize":19,"titleFontWeight":"normal","titleColor":"#262626","titlePadding":7}},
"color":{"field":"k","type":"nominal","scale":{"domain":[0,1,2,3,4,5,6],"range":["#0072BD","#D95319","#EDB120","#7E2F8E","#77AC30","#4DBEEE","#A2142F"]},"legend":null},
"detail":{"field":"c","type":"nominal"}
}},
{"data":{"values":[{"x":0,"y":0},{"x":1,"y":1}]},
"mark":{"type":"point","opacity":0},
"encoding":{
"x":{"field":"x","type":"quantitative","scale":{"domain":[0,1],"nice":false,"zero":false},"axis":{"orient":"top","labels":false,"title":null,"grid":false,"values":[0,0.1,0.2,0.3,0.4,0.5,0.6,0.7,0.8,0.9,1],"tickSize":-5,"tickColor":"#262626","domainColor":"#262626"}},
"y":{"field":"y","type":"quantitative","scale":{"domain":[0,1],"nice":false,"zero":false},"axis":{"orient":"right","labels":false,"title":null,"grid":false,"values":[0,0.1,0.2,0.3,0.4,0.5,0.6,0.7,0.8,0.9,1],"tickSize":-5,"tickColor":"#262626","domainColor":"#262626"}}
}}
],
"resolve":{"axis":{"x":"independent","y":"independent"}}
}
